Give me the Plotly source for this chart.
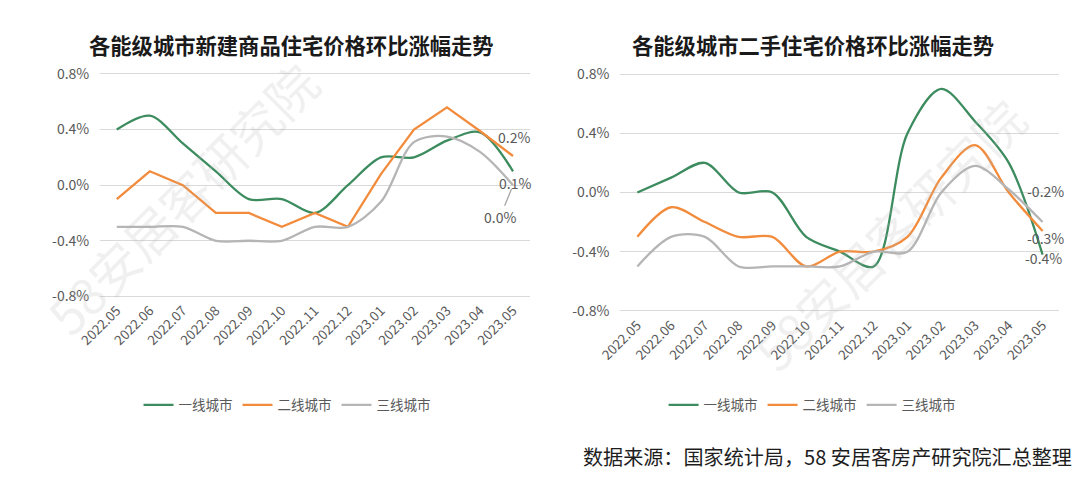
import plotly.graph_objects as go

# ---------------- data ----------------
months = ["2022.05", "2022.06", "2022.07", "2022.08", "2022.09", "2022.10", "2022.11",
          "2022.12", "2023.01", "2023.02", "2023.03", "2023.04", "2023.05"]
series_names = ["一线城市", "二线城市", "三线城市"]

# 新建商品住宅价格环比 (%)
new_tier1 = [0.4, 0.5, 0.3, 0.1, -0.1, -0.1, -0.2, 0.0, 0.2, 0.2, 0.32, 0.38, 0.1]
new_tier2 = [-0.1, 0.1, 0.0, -0.2, -0.2, -0.3, -0.2, -0.3, 0.08, 0.4, 0.56, 0.39, 0.21]
new_tier3 = [-0.3, -0.3, -0.3, -0.4, -0.4, -0.4, -0.3, -0.3, -0.12, 0.31, 0.35, 0.24, 0.0]

# 二手住宅价格环比 (%)
used_tier1 = [0.0, 0.1, 0.2, 0.0, 0.0, -0.3, -0.4, -0.5, 0.4, 0.7, 0.48, 0.2, -0.42]
used_tier2 = [-0.3, -0.1, -0.2, -0.3, -0.3, -0.5, -0.4, -0.4, -0.3, 0.1, 0.32, 0.0, -0.26]
used_tier3 = [-0.5, -0.3, -0.3, -0.5, -0.5, -0.5, -0.5, -0.4, -0.4, 0.0, 0.18, 0.02, -0.2]

y_ticks = [-0.8, -0.4, 0.0, 0.4, 0.8]
y_tick_labels = ["-0.8%", "-0.4%", "0.0%", "0.4%", "0.8%"]

title_left = "各能级城市新建商品住宅价格环比涨幅走势"
title_right = "各能级城市二手住宅价格环比涨幅走势"
source_text = "数据来源：国家统计局，58 安居客房产研究院汇总整理"
watermark = "58安居客研究院"

# ---------------- style ----------------
FONT = "Noto Sans CJK SC, Microsoft YaHei, sans-serif"
GREEN = "#3d8c5f"
ORANGE = "#f28c3c"
GRAY = "#b5b5b5"
TXT = "#595959"
GRID = "#d9d9d9"
W = 2.3

fig = go.Figure()

left_series = [(new_tier1, GREEN, "spline"), (new_tier2, ORANGE, "linear"), (new_tier3, GRAY, "spline")]
right_series = [(used_tier1, GREEN, "spline"), (used_tier2, ORANGE, "spline"), (used_tier3, GRAY, "spline")]

for name, (vals, col, shape) in zip(series_names, left_series):
    fig.add_trace(go.Scatter(x=months, y=vals, name=name, mode="lines",
                             line=dict(color=col, width=W, shape=shape, smoothing=0.9),
                             xaxis="x", yaxis="y", legend="legend"))
for name, (vals, col, shape) in zip(series_names, right_series):
    fig.add_trace(go.Scatter(x=months, y=vals, name=name, mode="lines",
                             line=dict(color=col, width=W, shape=shape, smoothing=0.9),
                             xaxis="x2", yaxis="y2", legend="legend2"))

xcommon = dict(type="category", range=[-0.5, 12.5], showgrid=False, zeroline=False,
               showline=False, ticks="", tickangle=-45,
               tickfont=dict(family=FONT, size=13.5, color=TXT), fixedrange=True)
ycommon = dict(range=[-0.82, 0.82], tickmode="array", tickvals=y_ticks, ticktext=y_tick_labels,
               showgrid=True, gridcolor=GRID, gridwidth=1.4, zeroline=False,
               showline=False, ticks="", ticklabelstandoff=10,
               tickfont=dict(family=FONT, size=14, color=TXT), fixedrange=True)

legend_common = dict(orientation="h", yanchor="middle", y=0.148, xanchor="center",
                     font=dict(family=FONT, size=13.5, color=TXT),
                     bgcolor="rgba(0,0,0,0)", itemwidth=30, tracegroupgap=0)

annotations = []
# titles
annotations.append(dict(text=f"<b>{title_left}</b>", x=64 / 1080, y=1 - 38 / 480, xref="paper",
                        yref="paper", showarrow=False, xanchor="left", yanchor="middle",
                        font=dict(family=FONT, size=21.3, color="#1a1a1a")))
annotations.append(dict(text=f"<b>{title_right}</b>", x=620 / 1080, y=1 - 38 / 480, xref="paper",
                        yref="paper", showarrow=False, xanchor="left", yanchor="middle",
                        font=dict(family=FONT, size=21.3, color="#1a1a1a")))
# source
annotations.append(dict(text=source_text, x=1074 / 1080, y=1 - 462 / 480, xref="paper", yref="paper",
                        showarrow=False, xanchor="right", yanchor="middle",
                        font=dict(family=FONT, size=20.1, color="#1e1e1e")))
# watermarks
for cx, cy in [(162, 195), (885, 232)]:
    annotations.append(dict(text=watermark, x=cx / 1080, y=1 - cy / 480, xref="paper", yref="paper",
                            showarrow=False, textangle=-45, xanchor="center", yanchor="middle",
                            font=dict(family=FONT, size=50, color="rgba(180,180,180,0.2)")))

# data labels (last points) - x given as category index
li = len(months) - 1
lab_font = dict(family=FONT, size=14, color=TXT)
annotations.append(dict(x=li, y=new_tier2[-1], xref="x", yref="y", text=f"{new_tier2[-1]:.1f}%",
                        showarrow=False, xshift=1, yshift=19, font=lab_font))
annotations.append(dict(x=li, y=new_tier1[-1], xref="x", yref="y", text=f"{new_tier1[-1]:.1f}%",
                        showarrow=False, xshift=2, yshift=-12, font=lab_font))
annotations.append(dict(x=li, y=new_tier3[-1], xref="x", yref="y", text=f"{new_tier3[-1]:.1f}%",
                        showarrow=True, arrowhead=0, arrowwidth=1.3, arrowcolor="#a6a6a6",
                        ax=-13, ay=32, standoff=4, font=lab_font))
annotations.append(dict(x=li, y=used_tier3[-1], xref="x2", yref="y2", text=f"{used_tier3[-1]:.1f}%",
                        showarrow=False, xshift=3, yshift=31, font=lab_font))
annotations.append(dict(x=li, y=used_tier2[-1], xref="x2", yref="y2", text=f"{used_tier2[-1]:.1f}%",
                        showarrow=False, xshift=3, yshift=-7, font=lab_font))
annotations.append(dict(x=li, y=used_tier1[-1], xref="x2", yref="y2", text=f"{used_tier1[-1]:.1f}%",
                        showarrow=False, xshift=1, yshift=-3, font=lab_font))

fig.update_layout(
    width=1080, height=480,
    margin=dict(l=0, r=0, t=0, b=0),
    paper_bgcolor="white", plot_bgcolor="white",
    font=dict(family=FONT, color=TXT),
    showlegend=True,
    xaxis=dict(domain=[78 / 1080, 517 / 1080], anchor="y", **xcommon),
    yaxis=dict(domain=[1 - 299.9 / 480, 1 - 65.1 / 480], anchor="x", **ycommon),
    xaxis2=dict(domain=[610 / 1080, 1059 / 1080], anchor="y2", **xcommon),
    yaxis2=dict(domain=[1 - 315.0 / 480, 1 - 65.0 / 480], anchor="x2", **ycommon),
    legend=dict(x=269 / 1080, **legend_common),
    legend2=dict(x=806 / 1080, **legend_common),
    annotations=annotations,
)

fig.write_html("out.html", config={"displayModeBar": False},
               post_script="document.body.style.margin='0';document.body.style.overflow='hidden';")
